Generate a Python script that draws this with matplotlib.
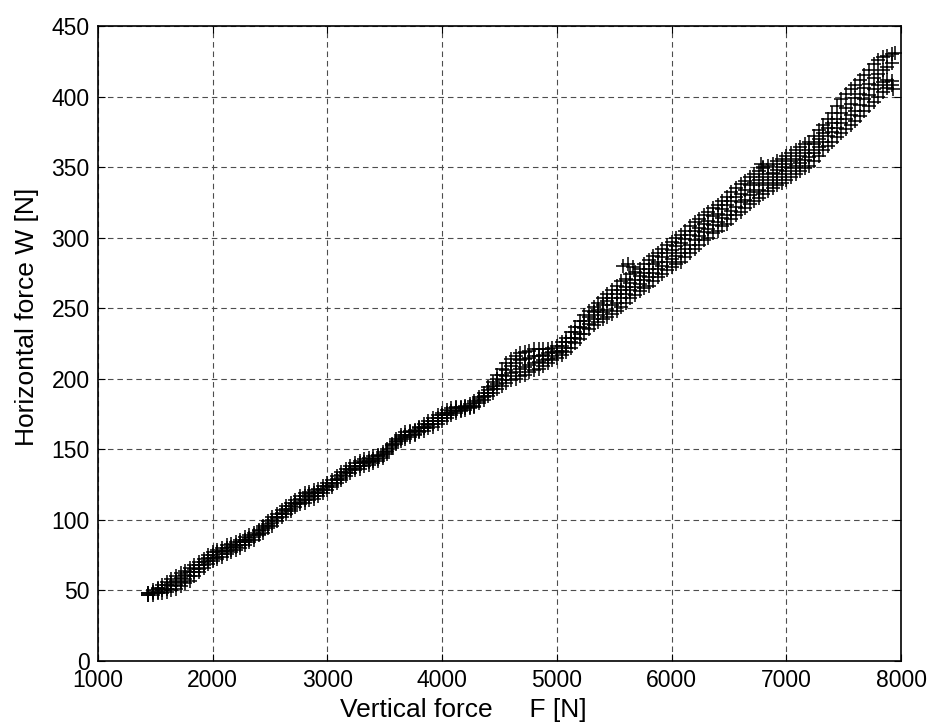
import matplotlib
matplotlib.use("Agg")
import matplotlib.pyplot as plt

# Vertical force samples (N) shared by the four traced passes
force = [1440, 1480, 1520, 1560, 1600, 1640, 1680, 1720, 1760, 1800,
         1840, 1880, 1920, 1960, 2000, 2040, 2080, 2120, 2160, 2200,
         2240, 2280, 2320, 2360, 2400, 2440, 2480, 2520, 2560, 2600,
         2640, 2680, 2720, 2760, 2800, 2840, 2880, 2920, 2960, 3000,
         3040, 3080, 3120, 3160, 3200, 3240, 3280, 3320, 3360, 3400,
         3440, 3480, 3520, 3560, 3600, 3640, 3680, 3720, 3760, 3800,
         3840, 3880, 3920, 3960, 4000, 4040, 4080, 4120, 4160, 4200,
         4240, 4280, 4320, 4360, 4400, 4440, 4480, 4520, 4560, 4600,
         4640, 4680, 4720, 4760, 4800, 4840, 4880, 4920, 4960, 5000,
         5040, 5080, 5120, 5160, 5200, 5240, 5280, 5320, 5360, 5400,
         5440, 5480, 5520, 5560, 5600, 5640, 5680, 5720, 5760, 5800,
         5840, 5880, 5920, 5960, 6000, 6040, 6080, 6120, 6160, 6200,
         6240, 6280, 6320, 6360, 6400, 6440, 6480, 6520, 6560, 6600,
         6640, 6680, 6720, 6760, 6800, 6840, 6880, 6920, 6960, 7000,
         7040, 7080, 7120, 7160, 7200, 7240, 7280, 7320, 7360, 7400,
         7440, 7480, 7520, 7560, 7600, 7640, 7680, 7720, 7760, 7800,
         7840, 7880, 7920]

# Horizontal force (N): lower edge, two inner traces, upper edge of the band
w_low = [47, 47, 48, 48, 49, 50, 51, 53, 55, 57,
         60, 63, 66, 69, 71, 72, 74, 76, 77, 79,
         80, 82, 84, 86, 89, 91, 94, 96, 99, 102,
         104, 106, 109, 111, 112, 114, 115, 117, 119, 121,
         123, 126, 128, 131, 133, 135, 136, 138, 139, 140,
         142, 144, 147, 151, 154, 156, 157, 159, 160, 162,
         163, 165, 166, 168, 170, 172, 174, 176, 177, 178,
         179, 180, 183, 185, 188, 190, 193, 195, 197, 199,
         200, 202, 203, 205, 206, 207, 209, 211, 213, 215,
         217, 219, 222, 225, 228, 232, 235, 238, 240, 242,
         244, 246, 248, 251, 254, 257, 259, 262, 264, 266,
         269, 272, 274, 277, 279, 281, 283, 286, 289, 292,
         295, 298, 300, 303, 305, 308, 310, 313, 316, 318,
         321, 324, 326, 328, 331, 333, 335, 337, 339, 341,
         343, 345, 347, 349, 351, 354, 358, 362, 365, 368,
         371, 374, 377, 380, 383, 386, 390, 393, 396, 400,
         403, 406, 408]
w_in1 = [47, 48, 49, 50, 51, 53, 54, 56, 58, 60,
         63, 65, 68, 71, 73, 74, 76, 78, 79, 81,
         82, 84, 86, 88, 90, 93, 96, 98, 101, 104,
         106, 108, 111, 113, 114, 116, 117, 119, 121, 123,
         125, 128, 130, 133, 135, 137, 138, 140, 141, 142,
         143, 145, 148, 152, 155, 157, 159, 160, 161, 163,
         165, 167, 168, 170, 172, 174, 176, 177, 178, 179,
         180, 181, 184, 187, 190, 193, 196, 199, 202, 204,
         205, 207, 208, 210, 211, 212, 213, 214, 216, 218,
         220, 222, 226, 229, 232, 236, 239, 242, 245, 247,
         249, 252, 254, 257, 260, 263, 265, 267, 270, 272,
         275, 278, 280, 283, 285, 287, 289, 292, 295, 298,
         301, 304, 306, 309, 311, 314, 316, 319, 322, 325,
         327, 330, 332, 334, 337, 339, 341, 343, 345, 347,
         349, 351, 353, 355, 357, 360, 364, 368, 372, 375,
         378, 381, 384, 387, 390, 394, 398, 401, 405, 408,
         410, 412, 411]
w_in2 = [48, 49, 51, 52, 54, 55, 57, 59, 61, 63,
         65, 68, 70, 73, 75, 77, 78, 80, 81, 82,
         84, 86, 87, 89, 92, 94, 97, 100, 102, 105,
         108, 110, 112, 115, 117, 118, 119, 120, 122, 124,
         126, 129, 132, 134, 136, 138, 140, 141, 142, 143,
         145, 147, 149, 153, 156, 159, 160, 162, 163, 165,
         166, 168, 170, 172, 174, 176, 177, 179, 179, 180,
         181, 183, 186, 188, 192, 195, 200, 203, 206, 209,
         211, 213, 214, 215, 216, 216, 217, 218, 219, 220,
         223, 226, 229, 233, 237, 241, 244, 247, 249, 252,
         255, 257, 260, 263, 265, 268, 270, 273, 275, 278,
         281, 283, 286, 289, 291, 294, 296, 299, 302, 305,
         307, 310, 312, 315, 317, 320, 323, 326, 329, 331,
         334, 337, 339, 341, 343, 345, 346, 348, 350, 352,
         354, 356, 358, 360, 362, 366, 370, 374, 378, 381,
         384, 388, 392, 395, 399, 402, 406, 409, 413, 416,
         419, 421, 424]
w_high = [48, 50, 52, 54, 56, 58, 60, 62, 64, 66,
          68, 70, 72, 75, 77, 79, 80, 82, 83, 84,
          86, 88, 89, 91, 93, 96, 99, 102, 104, 107,
          110, 112, 114, 117, 119, 120, 121, 122, 124, 126,
          128, 131, 134, 136, 138, 140, 142, 143, 144, 145,
          146, 148, 150, 154, 157, 160, 162, 163, 164, 166,
          168, 170, 172, 174, 176, 178, 179, 180, 180, 181,
          182, 184, 187, 190, 194, 198, 203, 207, 211, 214,
          216, 218, 219, 220, 221, 221, 221, 221, 222, 223,
          226, 229, 233, 237, 241, 245, 248, 251, 254, 257,
          260, 263, 266, 269, 271, 274, 276, 278, 281, 284,
          287, 289, 292, 295, 297, 300, 302, 305, 308, 311,
          313, 316, 318, 321, 323, 326, 329, 332, 335, 338,
          340, 343, 345, 347, 349, 351, 352, 354, 356, 358,
          360, 362, 364, 366, 368, 372, 376, 380, 384, 388,
          393, 398, 402, 405, 408, 412, 415, 419, 423, 426,
          428, 429, 430]

# isolated excursions off the main band
f_extra = [5580, 5620, 5660, 6780, 6800, 7950, 7930]
w_extra = [280, 281, 279, 352, 350, 431, 405]

plt.rcParams["font.family"] = ["Liberation Sans", "DejaVu Sans"]

fig = plt.figure(figsize=(9.29, 7.27), dpi=100)
ax = fig.add_axes([0.1055, 0.0908, 0.8645, 0.8735])

for w in (w_low, w_in1, w_in2, w_high):
    ax.plot(force, w, linestyle="none", marker="+", color="black",
            markersize=9.5, markeredgewidth=1.1)
ax.plot(f_extra, w_extra, linestyle="none", marker="+", color="black",
        markersize=9.5, markeredgewidth=1.1)

ax.set_xlim(1000, 8000)
ax.set_ylim(0, 450)
ax.set_xticks(range(1000, 8001, 1000))
ax.set_yticks(range(0, 451, 50))

ax.grid(True, color="0.3", linestyle=(0, (5, 3.5)), linewidth=0.8)
ax.tick_params(direction="in", top=True, right=True, length=5,
               width=0.8, labelsize=16.5, pad=6)
for s in ax.spines.values():
    s.set_linewidth(1.2)

ax.set_xlabel("Vertical force     F [N]", fontsize=19)
ax.set_ylabel("Horizontal force W [N]", fontsize=19)
ax.xaxis.set_label_coords(0.455, -0.058)
ax.yaxis.set_label_coords(-0.074, 0.5425)

fig.savefig("out.png", dpi=100)
